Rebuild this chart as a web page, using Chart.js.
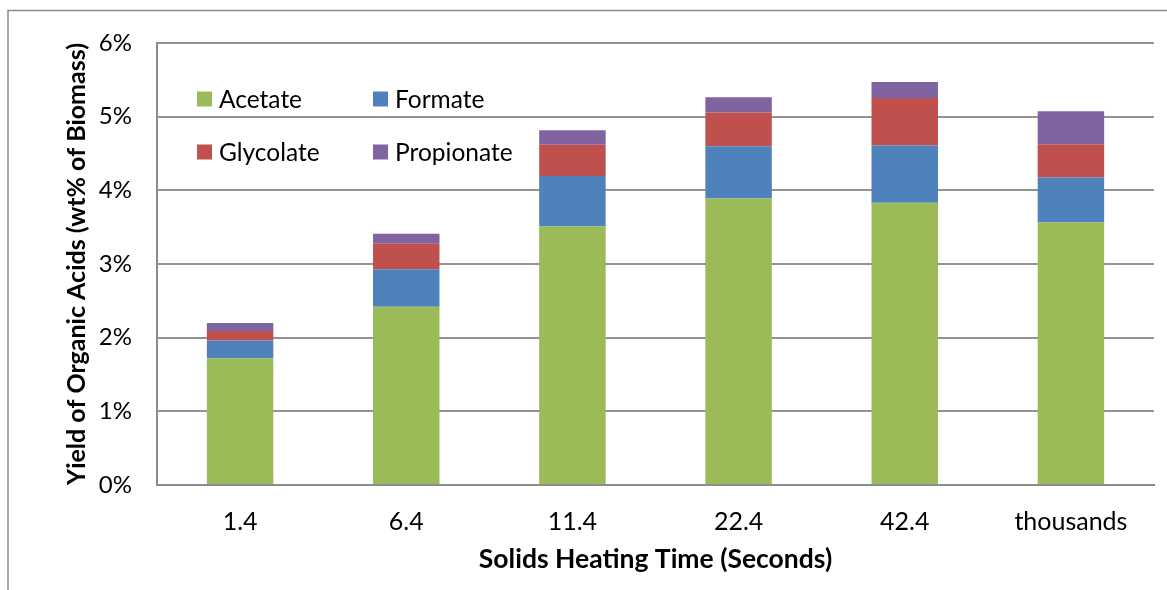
<!DOCTYPE html>
<html>
<head>
<meta charset="utf-8">
<script src="https://cdn.jsdelivr.net/npm/chart.js@4.4.1/dist/chart.umd.min.js"></script>
<style>
  html, body { margin: 0; padding: 0; background: #fff; }
  #wrap { width: 1167px; height: 590px; position: relative; }
</style>
</head>
<body>
<div id="wrap"><canvas id="c" width="1167" height="590"></canvas></div>
<script>
// Solids heating time categories (seconds)
const categories = ['1.4', '6.4', '11.4', '22.4', '42.4', 'thousands'];

// Organic acid yields, wt% of biomass
const acetate    = [1.72, 2.42, 3.51, 3.89, 3.83, 3.565];
const formate    = [0.24, 0.51, 0.685, 0.71, 0.78, 0.61];
const glycolate  = [0.13, 0.345, 0.425, 0.455, 0.645, 0.45];
const propionate = [0.11, 0.135, 0.195, 0.21, 0.215, 0.45];

const seriesNames  = ['Acetate', 'Formate', 'Glycolate', 'Propionate'];
const seriesColors = ['#9BBB59', '#4F81BD', '#C0504D', '#8064A2'];

// Y axis tick values (percent)
const yTicks = [0, 1, 2, 3, 4, 5, 6];

const FONT = 'Lato, "Liberation Sans", sans-serif';
Chart.defaults.font.family = FONT;
Chart.defaults.color = '#000';

// Outer frame of the chart object
const framePlugin = {
  id: 'frame',
  beforeDraw(chart) {
    const ctx = chart.ctx;
    ctx.save();
    ctx.fillStyle = '#fff';
    ctx.fillRect(0, 0, chart.width, chart.height);
    ctx.strokeStyle = '#8c8c8c';
    ctx.lineWidth = 1.5;
    ctx.beginPath();
    ctx.moveTo(8, chart.height + 5);
    ctx.lineTo(8, 10.5);
    ctx.lineTo(chart.width + 5, 10.5);
    ctx.stroke();
    ctx.restore();
  }
};

// Two-column legend placed inside the plot area
const insideLegend = {
  id: 'insideLegend',
  afterDatasetsDraw(chart) {
    const ctx = chart.ctx;
    const area = chart.chartArea;
    const x0 = area.left + 40, y0 = area.top + 56;
    const colGap = 176, rowGap = 53, box = 15;
    ctx.save();
    ctx.font = '24.5px ' + FONT;
    ctx.textBaseline = 'middle';
    ctx.textAlign = 'left';
    chart.data.datasets.forEach((ds, i) => {
      const col = i % 2, row = Math.floor(i / 2);
      const x = x0 + col * colGap;
      const y = y0 + row * rowGap;
      ctx.fillStyle = ds.backgroundColor;
      ctx.fillRect(x, y - box / 2, box, box);
      ctx.fillStyle = '#000';
      ctx.fillText(ds.label, x + 22, y + 1);
    });
    ctx.restore();
  }
};

const seriesData = [acetate, formate, glycolate, propionate];

new Chart(document.getElementById('c'), {
  type: 'bar',
  data: {
    labels: categories,
    datasets: seriesData.map((d, i) => ({
      label: seriesNames[i],
      data: d,
      backgroundColor: seriesColors[i],
      borderWidth: 0,
      categoryPercentage: 1.0,
      barPercentage: 0.4
    }))
  },
  options: {
    responsive: false,
    animation: false,
    layout: { padding: { top: 43, right: 13, left: 0, bottom: 0 } },
    plugins: {
      legend: { display: false },
      tooltip: { enabled: false }
    },
    scales: {
      x: {
        stacked: true,
        grid: { display: false, drawTicks: false },
        border: { display: true, color: '#8c8c8c', width: 2 },
        ticks: { font: { size: 25 }, padding: 22, color: '#000' },
        title: {
          display: true,
          text: 'Solids Heating Time (Seconds)',
          font: { size: 26.5, weight: 'bold' },
          padding: { top: 0, bottom: 15 },
          color: '#000'
        },
        afterFit(scale) { scale.height = 105; }
      },
      y: {
        stacked: true,
        min: 0,
        max: 6,
        afterBuildTicks(scale) { scale.ticks = yTicks.map(v => ({ value: v })); },
        grid: { color: '#939393', lineWidth: 2, drawTicks: false },
        border: { display: true, color: '#8c8c8c', width: 2 },
        ticks: {
          font: { size: 24 },
          padding: 25,
          color: '#000',
          callback: v => v + '%'
        },
        title: {
          display: true,
          text: 'Yield of Organic Acids (wt% of Biomass)',
          font: { size: 25, weight: 'bold' },
          padding: { top: 62, bottom: 0 },
          color: '#000'
        },
        afterFit(scale) { scale.width = 157; }
      }
    }
  },
  plugins: [framePlugin, insideLegend]
});
</script>
</body>
</html>
